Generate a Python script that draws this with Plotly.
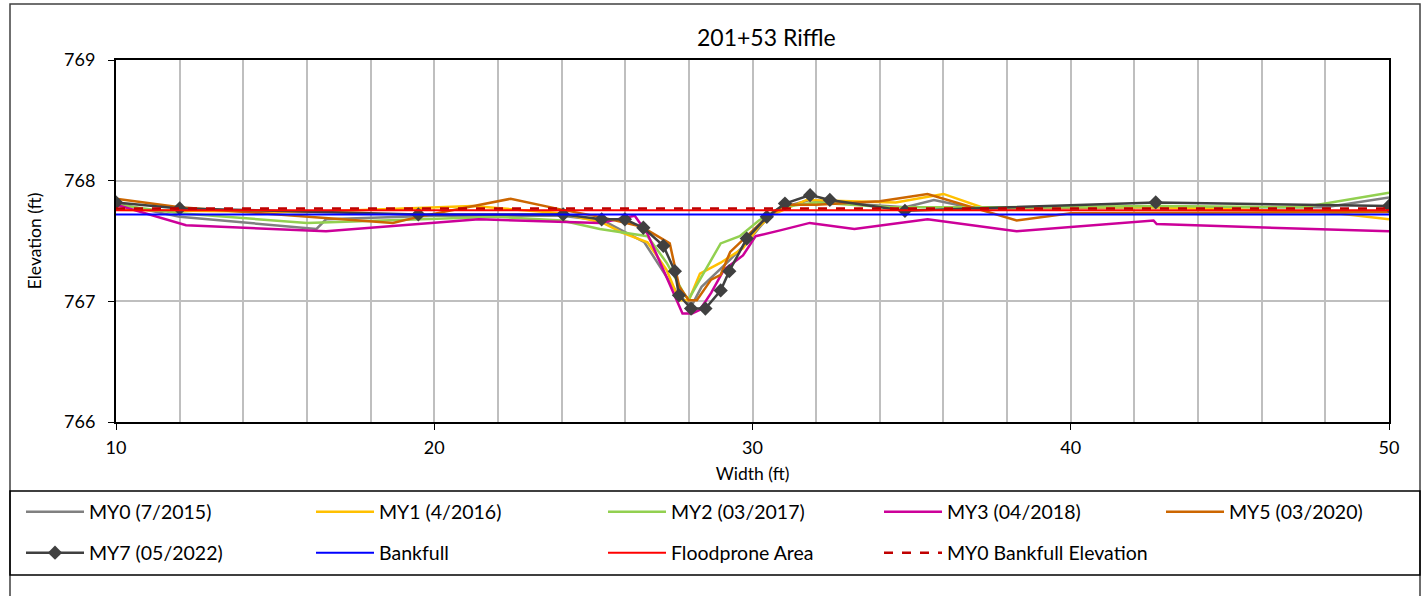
import plotly.graph_objects as go

# ---- data ----
my0_x = [10, 12, 16.3, 16.6, 20, 24, 25.3, 26.6, 27.7, 28.1, 28.4, 29.2, 29.8, 30.5, 31.1, 31.8, 32.5, 34.8, 35.7, 37, 42.7, 48, 50]
my0_y = [767.81, 767.70, 767.60, 767.68, 767.71, 767.71, 767.67, 767.49, 767.04, 766.97, 767.12, 767.32, 767.48, 767.70, 767.79, 767.84, 767.82, 767.78, 767.84, 767.77, 767.78, 767.78, 767.86]

my1_x = [10, 12, 16, 19.5, 21.2, 24, 25.3, 25.9, 26.7, 27.3, 27.7, 28.0, 28.35, 29.0, 29.7, 30.2, 30.65, 31.7, 34.5, 36.0, 37.2, 42.7, 48, 50]
my1_y = [767.76, 767.75, 767.74, 767.77, 767.79, 767.73, 767.65, 767.57, 767.49, 767.26, 767.01, 767.01, 767.23, 767.32, 767.44, 767.62, 767.72, 767.84, 767.82, 767.89, 767.78, 767.78, 767.74, 767.68]

my2_x = [10, 12, 16, 20, 22, 24, 25.2, 26.7, 27.3, 27.9, 28.0, 29.0, 29.6, 30.2, 30.9, 32, 34.3, 38, 42.7, 47.3, 50]
my2_y = [767.80, 767.73, 767.65, 767.68, 767.70, 767.67, 767.60, 767.54, 767.32, 767.04, 767.02, 767.48, 767.54, 767.67, 767.78, 767.82, 767.78, 767.78, 767.79, 767.78, 767.90]

my3_x = [10, 12.2, 16.6, 21.4, 25.2, 26.3, 26.7, 27.5, 27.8, 28.1, 28.35, 28.7, 29.1, 29.7, 30.1, 30.9, 31.8, 33.2, 35.5, 38.3, 42.6, 42.7, 50]
my3_y = [767.80, 767.63, 767.58, 767.68, 767.65, 767.71, 767.56, 767.07, 766.90, 766.90, 766.93, 767.07, 767.26, 767.38, 767.54, 767.59, 767.65, 767.60, 767.68, 767.58, 767.67, 767.64, 767.58]

my5_x = [10, 12, 18.7, 19.5, 22.4, 24, 25.2, 26.5, 27.4, 27.7, 28.0, 28.25, 28.7, 29.0, 29.3, 30.3, 31.0, 32.0, 34, 35.5, 38.3, 40, 50]
my5_y = [767.85, 767.78, 767.65, 767.70, 767.85, 767.76, 767.70, 767.62, 767.48, 767.12, 767.01, 767.01, 767.18, 767.22, 767.41, 767.66, 767.80, 767.80, 767.83, 767.89, 767.67, 767.73, 767.74]

my7_x = [10, 12.0, 19.5, 24.05, 25.26, 25.99, 26.57, 27.2, 27.56, 27.69, 28.07, 28.52, 29.0, 29.27, 29.82, 30.45, 31.02, 31.81, 32.43, 34.79, 42.67, 50]
my7_y = [767.82, 767.77, 767.72, 767.72, 767.68, 767.68, 767.61, 767.46, 767.25, 767.05, 766.94, 766.94, 767.09, 767.25, 767.52, 767.70, 767.81, 767.88, 767.84, 767.75, 767.82, 767.79]

bankfull_x = [10, 50]
bankfull_y = [767.72, 767.72]
flood_x = [10, 50]
flood_y = [767.755, 767.755]
my0bf_x = [10, 50]
my0bf_y = [767.77, 767.77]

x_ticks = [10, 20, 30, 40, 50]
y_ticks = [766, 767, 768, 769]

FONT = "Lato"
W, H = 1421, 596
L, R, T, B = 116, 1389, 60, 422

def px(xp):
    return (xp - L) / (R - L)

def py(yp):
    return (B - yp) / (B - T)

fig = go.Figure()

# legend slots: (column px of line start, row center px)
cols = [22, 312, 604, 880, 1162]
row1, row2 = 512, 553

entries = [
    dict(name="MY0 (7/2015)", x=my0_x, y=my0_y, color="#808080", mode="lines", width=2.5, dash="solid", pos=(cols[0], row1)),
    dict(name="MY1 (4/2016)", x=my1_x, y=my1_y, color="#FFC000", mode="lines", width=2.5, dash="solid", pos=(cols[1], row1)),
    dict(name="MY2 (03/2017)", x=my2_x, y=my2_y, color="#92D050", mode="lines", width=2.5, dash="solid", pos=(cols[2], row1)),
    dict(name="MY3 (04/2018)", x=my3_x, y=my3_y, color="#CC0099", mode="lines", width=2.5, dash="solid", pos=(cols[3], row1)),
    dict(name="MY5 (03/2020)", x=my5_x, y=my5_y, color="#CC6600", mode="lines", width=2.5, dash="solid", pos=(cols[4], row1)),
    dict(name="MY7 (05/2022)", x=my7_x, y=my7_y, color="#404040", mode="lines+markers", width=2.5, dash="solid", pos=(cols[0], row2)),
    dict(name="Bankfull", x=bankfull_x, y=bankfull_y, color="#0000FF", mode="lines", width=2, dash="solid", pos=(cols[1], row2)),
    dict(name="Floodprone Area", x=flood_x, y=flood_y, color="#FF0000", mode="lines", width=2, dash="solid", pos=(cols[2], row2)),
    dict(name="MY0 Bankfull Elevation", x=my0bf_x, y=my0bf_y, color="#C00000", mode="lines", width=2.5, dash="dash", pos=(cols[3], row2)),
]

legends = {}
for i, e in enumerate(entries):
    lname = "legend" if i == 0 else f"legend{i + 1}"
    kw = dict(x=e["x"], y=e["y"], mode=e["mode"], name=e["name"],
              line=dict(color=e["color"], width=e["width"], dash=e["dash"]), legend=lname)
    if "markers" in e["mode"]:
        kw["marker"] = dict(symbol="diamond", size=11, color=e["color"])
    fig.add_trace(go.Scatter(**kw))
    cx, cy = e["pos"]
    legends[lname] = dict(orientation="h", x=px(cx - 1), y=py(cy), xanchor="left", yanchor="middle",
                          font=dict(family=FONT, size=19.5, color="#000"),
                          bgcolor="rgba(0,0,0,0)", borderwidth=0, itemwidth=58,
                          itemclick=False, itemdoubleclick=False)

fig.update_layout(
    width=W, height=H,
    margin=dict(l=L, r=W - R, t=T, b=H - B, pad=0),
    paper_bgcolor="white", plot_bgcolor="white",
    showlegend=True,
    font=dict(family=FONT, size=18, color="#000"),
    xaxis=dict(range=[10, 50], tickvals=x_ticks, ticks="outside", ticklen=6, tickcolor="#000",
               ticklabelstandoff=2,
               showgrid=True, gridcolor="#BFBFBF", gridwidth=1.5,
               minor=dict(dtick=2, tick0=10, showgrid=True, gridcolor="#BFBFBF", gridwidth=1.5),
               showline=True, linecolor="#000", linewidth=2, mirror=True,
               zeroline=False, tickfont=dict(family=FONT, size=18, color="#000"),
               title=dict(text="Width (ft)", font=dict(family=FONT, size=17.5, color="#000"), standoff=11)),
    yaxis=dict(range=[766, 769], tickvals=y_ticks, ticks="outside", ticklen=6, tickcolor="#000",
               ticklabelstandoff=9,
               showgrid=True, gridcolor="#BFBFBF", gridwidth=1.5,
               showline=True, linecolor="#000", linewidth=2, mirror=True,
               zeroline=False, tickfont=dict(family=FONT, size=18, color="#000"),
               title=dict(text="Elevation (ft)", font=dict(family=FONT, size=17.5, color="#000"), standoff=18)),
    annotations=[dict(text="201+53 Riffle", x=px(766), y=py(37), xref="paper", yref="paper",
                      showarrow=False, xanchor="center", yanchor="middle",
                      font=dict(family=FONT, size=23, color="#000"))],
    shapes=[
        dict(type="rect", xref="paper", yref="paper", x0=px(10), x1=px(1420), y0=py(598), y1=py(4),
             line=dict(color="#404040", width=1.5), fillcolor="rgba(0,0,0,0)", layer="below"),
        dict(type="rect", xref="paper", yref="paper", x0=px(10), x1=px(1420), y0=py(575), y1=py(491),
             line=dict(color="#000", width=1.5), fillcolor="rgba(0,0,0,0)", layer="below"),
    ],
    **legends,
)

fig.write_html("out.html")
